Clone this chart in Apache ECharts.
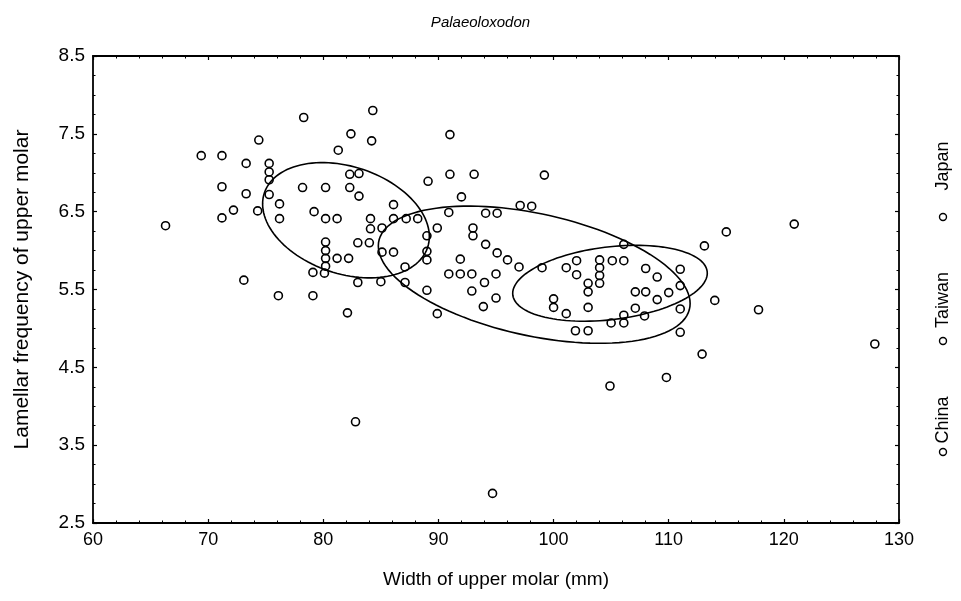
<!DOCTYPE html>
<html>
<head>
<meta charset="utf-8">
<script src="https://cdn.jsdelivr.net/npm/echarts@6/dist/echarts.min.js"></script>
<style>
html,body{margin:0;padding:0;background:#fff;}
#chart{width:961px;height:601px;}
</style>
</head>
<body>
<div id="chart"></div>
<script>
// ---- data ----
const seriesNames = ['China', 'Taiwan', 'Japan'];

const japanPoints = [
  [66.3,6.32],[69.4,7.22],[71.2,7.22],[73.3,7.12],[74.4,7.42],[75.3,7.12],[75.3,7.01],[75.3,6.91],
  [75.3,6.72],[71.2,6.82],[73.3,6.73],[72.2,6.52],[71.2,6.42],[74.3,6.51],[76.2,6.60],[76.2,6.41],
  [73.1,5.62],[78.3,7.71],[84.3,7.80],[82.4,7.50],[84.2,7.41],[81.3,7.29],[78.2,6.81],[80.2,6.81],
  [82.3,6.98],[83.1,6.99],[82.3,6.81],[83.1,6.70],[79.2,6.50],[80.2,6.41],[81.2,6.41],[84.1,6.41],
  [84.1,6.28],[80.2,6.11],[80.2,6.00],[80.2,5.90],[80.2,5.80],[80.1,5.71],[81.2,5.90],[82.2,5.90],
  [83.0,6.10],[84.0,6.10],[79.1,5.72],[83.0,5.59],[85.1,6.29],[85.1,5.98],[85.0,5.60],[76.1,5.42],
  [79.1,5.42],[82.1,5.20],[82.8,3.80]
];

const taiwanPoints = [
  [100.0,5.38],[100.0,5.27],[101.1,5.78],[102.0,5.87],[102.0,5.69],[101.1,5.19],[103.0,5.58],[103.0,5.47],
  [103.0,5.27],[104.0,5.88],[104.0,5.78],[104.0,5.68],[104.0,5.58],[105.1,5.87],[106.1,5.87],[106.1,6.08],
  [108.0,5.77],[109.0,5.66],[107.1,5.47],[108.0,5.47],[107.1,5.26],[109.0,5.37],[107.9,5.16],[106.1,5.17],
  [106.1,5.07],[105.0,5.07],[101.9,4.97],[103.0,4.97],[111.0,5.76],[111.0,5.55],[110.0,5.46],[111.0,5.25]
];

const chinaPoints = [
  [91.0,7.49],[91.0,6.98],[93.1,6.98],[99.2,6.97],[89.1,6.89],[92.0,6.69],[86.1,6.59],[90.9,6.49],
  [94.1,6.48],[95.1,6.48],[97.1,6.58],[98.1,6.57],[86.1,6.41],[87.2,6.41],[88.2,6.41],[89.9,6.29],
  [89.0,6.19],[93.0,6.29],[93.0,6.19],[94.1,6.08],[95.1,5.97],[96.0,5.88],[97.0,5.79],[99.0,5.78],
  [86.1,5.98],[89.0,5.99],[89.0,5.88],[91.9,5.89],[87.1,5.79],[87.1,5.59],[90.9,5.70],[91.9,5.70],
  [92.9,5.70],[95.0,5.70],[94.0,5.59],[92.9,5.48],[89.0,5.49],[95.0,5.39],[93.9,5.28],[89.9,5.19],
  [113.1,6.06],[115.0,6.24],[120.9,6.34],[114.0,5.36],[117.8,5.24],[111.0,4.95],[112.9,4.67],[109.8,4.37],
  [104.9,4.26],[94.7,2.88],[127.9,4.80]
];

// ellipses: centre and two conjugate semi-axis vectors (data units)
const ellipseCenter = [[81.97,6.39],[98.32,5.69],[104.90,5.58]];
const ellipseAxisA  = [[7.24,-0.21],[13.54,-0.37],[8.45,0.13]];
const ellipseAxisB  = [[0,0.71],[0,0.80],[0,0.47]];

// axis ranges / ticks
const xMin = 60, xMax = 130, xStep = 10;
const yMin = 2.5, yMax = 8.5, yStep = 1;

// ---- chart ----
const FONT = '"Liberation Sans", Arial, sans-serif';
const chart = echarts.init(document.getElementById('chart'), null, {renderer:'canvas'});

const ellipseData = ellipseCenter.map((c, i) => [c[0], c[1], ellipseAxisA[i][0], ellipseAxisA[i][1], ellipseAxisB[i][0], ellipseAxisB[i][1]]);

function axisCommon(showLabel, fs) {
  return {
    axisLine: {show: true, lineStyle: {color: '#000', width: 1.8}},
    axisTick: {show: true, inside: true, length: 4, lineStyle: {color: '#000', width: 1.2}},
    splitLine: {show: false},
    axisLabel: {show: showLabel, color: '#000', fontFamily: FONT, fontSize: fs || 18}
  };
}

const scatterStyle = {
  type: 'scatter',
  symbol: 'circle',
  symbolSize: 8,
  itemStyle: {color: 'rgba(255,255,255,0)', borderColor: '#000', borderWidth: 1.6, opacity: 1},
  emphasis: {disabled: true},
  z: 3
};

const lx = 943;
const legendItems = [
  {name: 'Japan', cy: 217, ty: 166},
  {name: 'Taiwan', cy: 341, ty: 300},
  {name: 'China', cy: 452, ty: 420}
];
const graphics = [];
legendItems.forEach(it => {
  graphics.push({type: 'circle', shape: {cx: lx, cy: it.cy, r: 3.5}, style: {fill: 'none', stroke: '#000', lineWidth: 1.4}});
  graphics.push({type: 'text', x: lx, y: it.ty, rotation: Math.PI / 2,
    style: {text: it.name, fill: '#000', font: '18px ' + FONT, align: 'center', verticalAlign: 'middle'}});
});

const option = {
  backgroundColor: '#fff',
  animation: false,
  title: {
    text: 'Palaeoloxodon', left: 'center', top: 10,
    textStyle: {fontFamily: FONT, fontSize: 15, fontStyle: 'italic', fontWeight: 'normal', color: '#000'}
  },
  grid: {left: 93, top: 56, right: 62, bottom: 78, containLabel: false},
  xAxis: [
    Object.assign(axisCommon(true, 18), {
      type: 'value', min: xMin, max: xMax, interval: xStep, position: 'bottom',
      name: 'Width of upper molar (mm)', nameLocation: 'middle', nameGap: 47,
      nameTextStyle: {color: '#000', fontFamily: FONT, fontSize: 19},
      minorTick: {show: true, splitNumber: 5, length: 2.5, lineStyle: {color: '#000', width: 1}}
    }),
    Object.assign(axisCommon(false), {
      type: 'value', min: xMin, max: xMax, interval: xStep, position: 'top',
      minorTick: {show: true, splitNumber: 5, length: 2.5, lineStyle: {color: '#000', width: 1}}
    })
  ],
  yAxis: [
    Object.assign(axisCommon(true, 19), {
      type: 'value', min: yMin, max: yMax, interval: yStep, position: 'left',
      name: 'Lamellar frequency of upper molar', nameLocation: 'middle', nameGap: 60,
      nameTextStyle: {color: '#000', fontFamily: FONT, fontSize: 21},
      minorTick: {show: true, splitNumber: 4, length: 2.5, lineStyle: {color: '#000', width: 1}}
    }),
    Object.assign(axisCommon(false), {
      type: 'value', min: yMin, max: yMax, interval: yStep, position: 'right',
      minorTick: {show: true, splitNumber: 4, length: 2.5, lineStyle: {color: '#000', width: 1}}
    })
  ],
  series: [
    Object.assign({}, scatterStyle, {name: seriesNames[0], data: chinaPoints}),
    Object.assign({}, scatterStyle, {name: seriesNames[1], data: taiwanPoints}),
    Object.assign({}, scatterStyle, {name: seriesNames[2], data: japanPoints}),
    {
      type: 'custom',
      name: 'ellipses',
      silent: true,
      z: 2,
      encode: {x: 0, y: 1},
      data: ellipseData,
      renderItem: function (params, api) {
        const cx = api.value(0), cy = api.value(1);
        const ax = api.value(2), ay = api.value(3);
        const bx = api.value(4), by = api.value(5);
        const pts = [];
        const n = 120;
        for (let k = 0; k < n; k++) {
          const t = 2 * Math.PI * k / n;
          pts.push(api.coord([cx + ax * Math.cos(t) + bx * Math.sin(t), cy + ay * Math.cos(t) + by * Math.sin(t)]));
        }
        return {type: 'polygon', shape: {points: pts}, style: {fill: 'none', stroke: '#000', lineWidth: 1.6}};
      }
    }
  ],
  graphic: graphics
};
chart.setOption(option);
</script>
</body>
</html>
